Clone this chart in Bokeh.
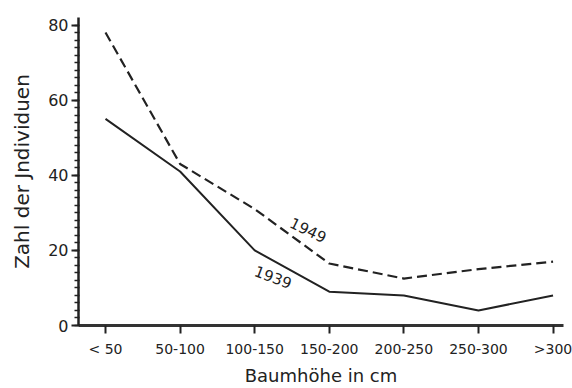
from bokeh.plotting import figure
from bokeh.models import FixedTicker, Range1d
from bokeh.core.properties import value
from bokeh.embed import file_html
from bokeh.resources import INLINE

categories = ["< 50", "50-100", "100-150", "150-200", "200-250", "250-300", ">300"]
values_1939 = [55, 41, 20, 9, 8, 4, 8]
values_1949 = [78, 43, 31, 16.5, 12.5, 15, 17]
y_major = [0, 20, 40, 60, 80]
y_minor = list(range(0, 82, 2))
label_years = ["1949", "1939"]
label_x = [2.72, 2.25]
label_y = [25.5, 13.0]
label_angle = [-0.45, -0.36]

x_idx = list(range(len(categories)))
FONT = "DejaVu Sans"
INK = "#222222"

p = figure(width=572, height=388, output_backend="svg", toolbar_location=None,
           x_range=Range1d(-0.362, 6.14), y_range=Range1d(0, 82),
           min_border_left=78, min_border_right=9, min_border_top=17, min_border_bottom=62)
p.outline_line_color = None
p.grid.visible = False
p.background_fill_color = "white"
p.border_fill_color = "white"

p.line(x_idx, values_1939, line_color=INK, line_width=2)
p.line(x_idx, values_1949, line_color=INK, line_width=2.2, line_dash="10 5")

for t, x, y, a in zip(label_years, label_x, label_y, label_angle):
    p.text(x=[x], y=[y], text=[t], angle=a, text_align="center", text_baseline="middle",
           text_font=value(FONT), text_font_size="15px", text_color=INK)

# x axis
xa = p.xaxis[0]
xa.ticker = FixedTicker(ticks=x_idx)
xa.major_label_overrides = {i: c for i, c in zip(x_idx, categories)}
xa.axis_line_color = "#333333"
xa.axis_line_width = 3
xa.major_tick_out = 8
xa.major_tick_in = 0
xa.major_tick_line_width = 2
xa.major_tick_line_color = INK
xa.minor_tick_line_color = None
xa.major_label_text_font = FONT
xa.major_label_text_font_size = "14px"
xa.major_label_text_color = INK
xa.major_label_standoff = 7
xa.axis_label = "Baumhöhe in cm"
xa.axis_label_text_font = FONT
xa.axis_label_text_font_style = "normal"
xa.axis_label_text_font_size = "18px"
xa.axis_label_text_color = INK
xa.axis_label_standoff = 5

# y axis
ya = p.yaxis[0]
ya.ticker = FixedTicker(ticks=y_major, minor_ticks=y_minor)
ya.axis_line_color = INK
ya.axis_line_width = 2.5
ya.major_tick_out = 7
ya.major_tick_in = 0
ya.major_tick_line_width = 2
ya.major_tick_line_color = INK
ya.minor_tick_out = 4
ya.minor_tick_in = 1
ya.minor_tick_line_width = 1.5
ya.minor_tick_line_color = INK
ya.major_label_text_font = FONT
ya.major_label_text_font_size = "16px"
ya.major_label_text_color = INK
ya.major_label_standoff = 3
ya.axis_label = "Zahl der Jndividuen"
ya.axis_label_text_font = FONT
ya.axis_label_text_font_style = "normal"
ya.axis_label_text_font_size = "20px"
ya.axis_label_text_color = INK
ya.axis_label_standoff = 11

open("out.html", "w").write(file_html(p, INLINE))
